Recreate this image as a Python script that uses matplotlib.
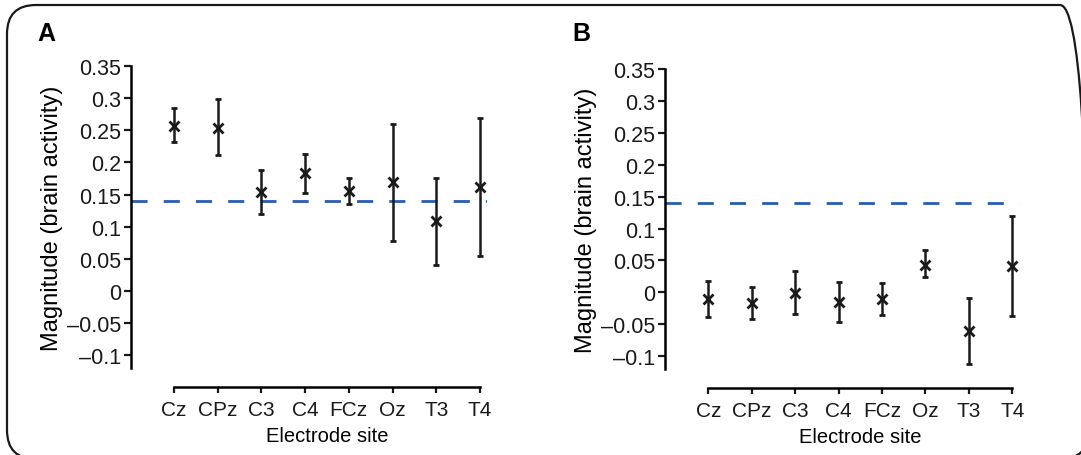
import numpy as np
import matplotlib
matplotlib.use('Agg')
import matplotlib.pyplot as plt
from matplotlib.patches import FancyBboxPatch

plt.rcParams['font.family'] = ['Liberation Sans', 'DejaVu Sans']

# Electrode sites
sites = ['Cz', 'CPz', 'C3', 'C4', 'FCz', 'Oz', 'T3', 'T4']

# Panel A: mean magnitude and error bar ends
a_mean = [0.257, 0.254, 0.154, 0.183, 0.155, 0.169, 0.108, 0.161]
a_upper = [0.285, 0.299, 0.188, 0.213, 0.176, 0.259, 0.175, 0.269]
a_lower = [0.231, 0.211, 0.119, 0.153, 0.135, 0.078, 0.041, 0.055]

# Panel B
b_mean = [-0.010, -0.017, -0.001, -0.015, -0.010, 0.0435, -0.061, 0.041]
b_upper = [0.018, 0.009, 0.033, 0.016, 0.015, 0.066, -0.008, 0.119]
b_lower = [-0.038, -0.042, -0.034, -0.047, -0.035, 0.0235, -0.112, -0.037]

threshold = 0.14

yticks = [0.35, 0.3, 0.25, 0.2, 0.15, 0.1, 0.05, 0, -0.05, -0.1]
ytick_labels = ['0.35', '0.3', '0.25', '0.2', '0.15', '0.1', '0.05', '0', '\u20130.05', '\u20130.1']

W, H = 1081, 456
fig = plt.figure(figsize=(W / 100, H / 100), dpi=100)

# rounded frame around both panels, drawn in a full-figure axes in pixel units
bg = fig.add_axes([0, 0, 1, 1])
bg.set_xlim(0, W)
bg.set_ylim(0, H)
bg.axis('off')
frame = FancyBboxPatch((7, -4), 1082, 454,
                       boxstyle='round,pad=0,rounding_size=29',
                       fill=False, edgecolor='#1a1a1a', linewidth=1.6)
bg.add_patch(frame)


def draw_panel(rect, mean, upper, lower, xlim):
    ax = fig.add_axes(rect)
    x = np.arange(len(sites))
    mean = np.array(mean)
    yerr = [mean - np.array(lower), np.array(upper) - mean]
    ax.axhline(threshold, color='#2a5cb0', lw=2, dashes=(5.8, 5.8), zorder=1)
    ax.errorbar(x, mean, yerr=yerr, fmt='x', color='#1a1a1a', ms=6.5, mew=2,
                elinewidth=1.8, capsize=2.5, capthick=1.8, zorder=3)
    ax.set_xlim(*xlim)
    ax.set_ylim(-0.12, 0.35)
    ax.set_yticks(yticks)
    ax.set_yticklabels(ytick_labels)
    ax.set_xticks(x)
    ax.set_xticklabels(sites)
    for s in ['top', 'right']:
        ax.spines[s].set_visible(False)
    ax.spines['left'].set_linewidth(1.8)
    ax.spines['bottom'].set_linewidth(1.8)
    ax.spines['bottom'].set_position(('outward', 14))
    ax.spines['bottom'].set_bounds(0, len(sites) - 1)
    ax.tick_params(axis='y', direction='out', length=5, width=1.6, pad=2,
                   labelsize=15.5, colors='#1a1a1a')
    ax.tick_params(axis='x', direction='out', length=4, width=1.6, pad=5,
                   labelsize=15, colors='#1a1a1a')
    ax.set_ylabel('Magnitude (brain activity)', fontsize=17, labelpad=3)
    ax.set_xlabel('Electrode site', fontsize=14.5, labelpad=5)
    ax.xaxis.label.set_x((3.5 - xlim[0]) / (xlim[1] - xlim[0]))
    ax.patch.set_alpha(0)
    return ax


draw_panel([131 / W, 1 - 369 / H, 356 / W, 302 / H], a_mean, a_upper, a_lower, (-0.98, 7.16))
draw_panel([665 / W, 1 - 370 / H, 355 / W, 300 / H], b_mean, b_upper, b_lower, (-1.0, 7.18))

fig.text(37 / W, 1 - 34 / H, 'A', fontsize=18, fontweight='bold', va='center', ha='left')
fig.text(572 / W, 1 - 34 / H, 'B', fontsize=18, fontweight='bold', va='center', ha='left')

fig.savefig('out.png', dpi=100)
